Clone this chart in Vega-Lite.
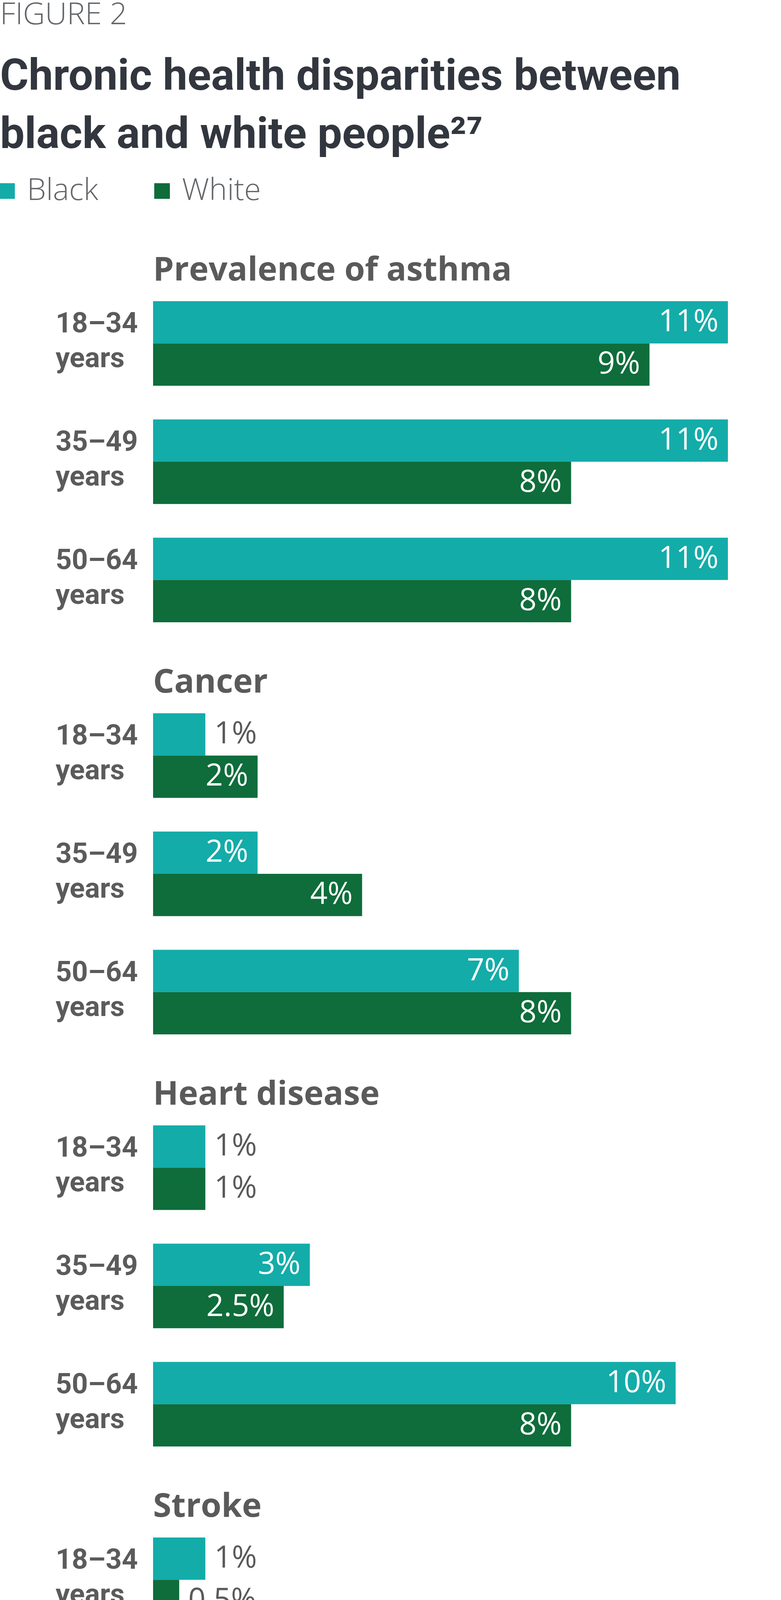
{
  "$schema": "https://vega.github.io/schema/vega-lite/v6.json",
  "background": "white",
  "padding": 0,
  "title": {
    "text": "FIGURE 2",
    "subtitle": ["Chronic health disparities between", "black and white people²⁷"],
    "anchor": "start",
    "frame": "bounds",
    "font": "Open Sans",
    "fontSize": 78,
    "fontWeight": 300,
    "color": "#63666A",
    "subtitleFont": "Roboto",
    "subtitleFontSize": 112,
    "subtitleFontWeight": "bold",
    "subtitleColor": "#32363E",
    "subtitleLineHeight": 149,
    "subtitlePadding": 64,
    "offset": 49
  },
  "data": {
    "values": [
      {"condition": "Prevalence of asthma", "age": "18–34 years", "race": "Black", "value": 11, "label": "11%"},
      {"condition": "Prevalence of asthma", "age": "18–34 years", "race": "White", "value": 9.5, "label": "9%"},
      {"condition": "Prevalence of asthma", "age": "35–49 years", "race": "Black", "value": 11, "label": "11%"},
      {"condition": "Prevalence of asthma", "age": "35–49 years", "race": "White", "value": 8, "label": "8%"},
      {"condition": "Prevalence of asthma", "age": "50–64 years", "race": "Black", "value": 11, "label": "11%"},
      {"condition": "Prevalence of asthma", "age": "50–64 years", "race": "White", "value": 8, "label": "8%"},
      {"condition": "Cancer", "age": "18–34 years", "race": "Black", "value": 1, "label": "1%"},
      {"condition": "Cancer", "age": "18–34 years", "race": "White", "value": 2, "label": "2%"},
      {"condition": "Cancer", "age": "35–49 years", "race": "Black", "value": 2, "label": "2%"},
      {"condition": "Cancer", "age": "35–49 years", "race": "White", "value": 4, "label": "4%"},
      {"condition": "Cancer", "age": "50–64 years", "race": "Black", "value": 7, "label": "7%"},
      {"condition": "Cancer", "age": "50–64 years", "race": "White", "value": 8, "label": "8%"},
      {"condition": "Heart disease", "age": "18–34 years", "race": "Black", "value": 1, "label": "1%"},
      {"condition": "Heart disease", "age": "18–34 years", "race": "White", "value": 1, "label": "1%"},
      {"condition": "Heart disease", "age": "35–49 years", "race": "Black", "value": 3, "label": "3%"},
      {"condition": "Heart disease", "age": "35–49 years", "race": "White", "value": 2.5, "label": "2.5%"},
      {"condition": "Heart disease", "age": "50–64 years", "race": "Black", "value": 10, "label": "10%"},
      {"condition": "Heart disease", "age": "50–64 years", "race": "White", "value": 8, "label": "8%"},
      {"condition": "Stroke", "age": "18–34 years", "race": "Black", "value": 1, "label": "1%"},
      {"condition": "Stroke", "age": "18–34 years", "race": "White", "value": 0.5, "label": "0.5%"},
      {"condition": "Stroke", "age": "35–49 years", "race": "Black", "value": 3, "label": "3%"},
      {"condition": "Stroke", "age": "35–49 years", "race": "White", "value": 2, "label": "2%"},
      {"condition": "Stroke", "age": "50–64 years", "race": "Black", "value": 7, "label": "7%"},
      {"condition": "Stroke", "age": "50–64 years", "race": "White", "value": 4, "label": "4%"}
    ]
  },
  "spacing": 112,
  "resolve": {"scale": {"color": "shared"}},
  "vconcat": [
    {
      "title": {"text": "Prevalence of asthma"},
      "transform": [{"filter": "datum.condition === 'Prevalence of asthma'"}],
      "width": 1472,
      "height": 822,
      "encoding": {
        "y": {"field": "age", "type": "nominal", "sort": ["18–34 years", "35–49 years", "50–64 years"], "scale": {"paddingInner": 0.285, "paddingOuter": 0}, "axis": {"title": null}},
        "yOffset": {"field": "race", "type": "nominal", "sort": ["Black", "White"], "scale": {"paddingInner": 0, "paddingOuter": 0}},
        "x": {"field": "value", "type": "quantitative", "scale": {"domain": [0, 11], "nice": false, "zero": true}, "axis": null}
      },
      "layer": [
        {"mark": {"type": "bar"}, "encoding": {"color": {"field": "race", "type": "nominal", "scale": {"domain": ["Black", "White"], "range": ["#13ACA9", "#0E6D3B"]}, "legend": {"title": null}}}},
        {"transform": [{"filter": "datum.value >= 1.5"}], "mark": {"type": "text", "align": "right", "baseline": "middle", "dx": -24, "color": "white", "font": "Open Sans", "fontSize": 78}, "encoding": {"text": {"field": "label"}}},
        {"transform": [{"filter": "datum.value < 1.5"}], "mark": {"type": "text", "align": "left", "baseline": "middle", "dx": 23, "color": "#5A5A5A", "font": "Open Sans", "fontSize": 78}, "encoding": {"text": {"field": "label"}}}
      ]
    },
    {
      "title": {"text": "Cancer"},
      "transform": [{"filter": "datum.condition === 'Cancer'"}],
      "width": 1472,
      "height": 822,
      "encoding": {
        "y": {"field": "age", "type": "nominal", "sort": ["18–34 years", "35–49 years", "50–64 years"], "scale": {"paddingInner": 0.285, "paddingOuter": 0}, "axis": {"title": null}},
        "yOffset": {"field": "race", "type": "nominal", "sort": ["Black", "White"], "scale": {"paddingInner": 0, "paddingOuter": 0}},
        "x": {"field": "value", "type": "quantitative", "scale": {"domain": [0, 11], "nice": false, "zero": true}, "axis": null}
      },
      "layer": [
        {"mark": {"type": "bar"}, "encoding": {"color": {"field": "race", "type": "nominal", "scale": {"domain": ["Black", "White"], "range": ["#13ACA9", "#0E6D3B"]}, "legend": {"title": null}}}},
        {"transform": [{"filter": "datum.value >= 1.5"}], "mark": {"type": "text", "align": "right", "baseline": "middle", "dx": -24, "color": "white", "font": "Open Sans", "fontSize": 78}, "encoding": {"text": {"field": "label"}}},
        {"transform": [{"filter": "datum.value < 1.5"}], "mark": {"type": "text", "align": "left", "baseline": "middle", "dx": 23, "color": "#5A5A5A", "font": "Open Sans", "fontSize": 78}, "encoding": {"text": {"field": "label"}}}
      ]
    },
    {
      "title": {"text": "Heart disease"},
      "transform": [{"filter": "datum.condition === 'Heart disease'"}],
      "width": 1472,
      "height": 822,
      "encoding": {
        "y": {"field": "age", "type": "nominal", "sort": ["18–34 years", "35–49 years", "50–64 years"], "scale": {"paddingInner": 0.285, "paddingOuter": 0}, "axis": {"title": null}},
        "yOffset": {"field": "race", "type": "nominal", "sort": ["Black", "White"], "scale": {"paddingInner": 0, "paddingOuter": 0}},
        "x": {"field": "value", "type": "quantitative", "scale": {"domain": [0, 11], "nice": false, "zero": true}, "axis": null}
      },
      "layer": [
        {"mark": {"type": "bar"}, "encoding": {"color": {"field": "race", "type": "nominal", "scale": {"domain": ["Black", "White"], "range": ["#13ACA9", "#0E6D3B"]}, "legend": {"title": null}}}},
        {"transform": [{"filter": "datum.value >= 1.5"}], "mark": {"type": "text", "align": "right", "baseline": "middle", "dx": -24, "color": "white", "font": "Open Sans", "fontSize": 78}, "encoding": {"text": {"field": "label"}}},
        {"transform": [{"filter": "datum.value < 1.5"}], "mark": {"type": "text", "align": "left", "baseline": "middle", "dx": 23, "color": "#5A5A5A", "font": "Open Sans", "fontSize": 78}, "encoding": {"text": {"field": "label"}}}
      ]
    },
    {
      "title": {"text": "Stroke"},
      "transform": [{"filter": "datum.condition === 'Stroke'"}],
      "width": 1472,
      "height": 822,
      "resolve": {"axis": {"x": "independent"}},
      "encoding": {
        "y": {"field": "age", "type": "nominal", "sort": ["18–34 years", "35–49 years", "50–64 years"], "scale": {"paddingInner": 0.285, "paddingOuter": 0}, "axis": {"title": null}},
        "yOffset": {"field": "race", "type": "nominal", "sort": ["Black", "White"], "scale": {"paddingInner": 0, "paddingOuter": 0}}
      },
      "layer": [
        {"mark": {"type": "bar"}, "encoding": {
          "x": {"field": "value", "type": "quantitative", "scale": {"domain": [0, 11], "nice": false, "zero": true}, "axis": {"orient": "bottom", "domain": false, "ticks": false, "labels": false, "grid": false, "title": "Source: Centers for Disease Control and Prevention.", "titleX": -390, "titleY": 180, "titleAlign": "left", "titleBaseline": "alphabetic", "titleFont": "Open Sans", "titleFontSize": 76, "titleFontWeight": 300, "titleColor": "#63666A"}},
          "color": {"field": "race", "type": "nominal", "scale": {"domain": ["Black", "White"], "range": ["#13ACA9", "#0E6D3B"]}, "legend": {"title": null}}}},
        {"transform": [{"filter": "datum.value >= 1.5"}], "mark": {"type": "text", "align": "right", "baseline": "middle", "dx": -24, "color": "white", "font": "Open Sans", "fontSize": 78}, "encoding": {
          "x": {"field": "value", "type": "quantitative", "scale": {"domain": [0, 11], "nice": false, "zero": true}, "axis": {"orient": "bottom", "domain": false, "ticks": false, "labels": false, "grid": false, "title": "Deloitte Insights | deloitte.com/insights", "titleX": 1604, "titleY": 365, "titleAlign": "right", "titleBaseline": "alphabetic", "titleFont": "Open Sans", "titleFontSize": 71, "titleFontWeight": 400, "titleColor": "#53565A"}},
          "text": {"field": "label"}}},
        {"transform": [{"filter": "datum.value < 1.5"}], "mark": {"type": "text", "align": "left", "baseline": "middle", "dx": 23, "color": "#5A5A5A", "font": "Open Sans", "fontSize": 78}, "encoding": {
          "x": {"field": "value", "type": "quantitative", "scale": {"domain": [0, 11], "nice": false, "zero": true}, "axis": null},
          "text": {"field": "label"}}}
      ]
    }
  ],
  "config": {
    "view": {"stroke": null},
    "title": {"anchor": "start", "frame": "group", "font": "Open Sans", "fontSize": 85, "fontWeight": "bold", "color": "#5A5A5A", "offset": 35},
    "axisY": {"domain": false, "ticks": false, "tickSize": 0, "grid": false, "labelAlign": "left", "labelPadding": 250, "labelBaseline": "middle", "labelOffset": -50, "labelFont": "Roboto", "labelFontSize": 72, "labelFontWeight": "bold", "labelColor": "#5B5B5B", "labelLineHeight": 89, "labelExpr": "split(datum.label, ' ')", "labelLimit": 0},
    "legend": {"orient": "none", "legendX": -392, "legendY": -321, "padding": 0, "direction": "horizontal", "symbolType": "square", "symbolSize": 1600, "symbolOffset": -21, "symbolStrokeWidth": 0, "symbolOpacity": 1, "labelFont": "Open Sans", "labelFontSize": 78, "labelFontWeight": 300, "labelColor": "#63666A", "labelOffset": 12, "columnPadding": 143, "labelLimit": 0}
  }
}
